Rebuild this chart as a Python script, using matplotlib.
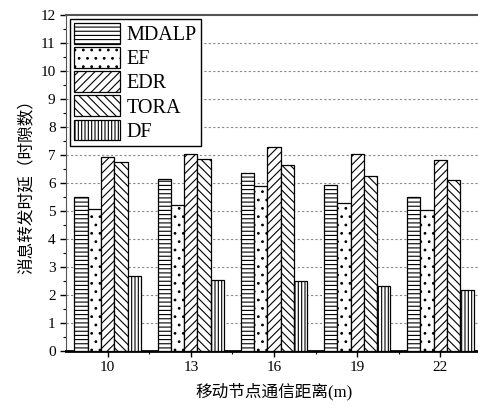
import matplotlib
matplotlib.use("Agg")
import matplotlib.pyplot as plt
import numpy as np

plt.rcParams['hatch.linewidth'] = 0.8

distances = ["10", "13", "16", "19", "22"]
series = ["MDALP", "EF", "EDR", "TORA", "DF"]
mdalp = [5.49, 6.14, 6.35, 5.94, 5.49]
ef = [5.06, 5.23, 5.89, 5.29, 5.02]
edr = [6.94, 7.04, 7.29, 7.04, 6.81]
tora = [6.75, 6.86, 6.65, 6.24, 6.12]
df = [2.68, 2.55, 2.51, 2.32, 2.17]
values = [mdalp, ef, edr, tora, df]
hatches = ['----', '..', '////', '\\\\\\\\', '|||||']

serif = ['Liberation Serif', 'Noto Sans CJK SC']

fig = plt.figure(figsize=(4.78, 4.12), dpi=100)
ax = fig.add_axes([66/478, 61/412, 416/478, 336/412])

x = np.arange(len(distances))
w = 0.16
for i, (name, vals, h) in enumerate(zip(series, values, hatches)):
    ax.bar(x + (i - 2) * w, vals, w, facecolor='white', edgecolor='black',
           hatch=h, linewidth=0.9, label=name, zorder=3)

ax.set_xlim(-0.5, 4.5)
ax.set_ylim(0, 12)
ax.set_xticks(x)
ax.set_xticklabels(distances, family=serif, fontsize=11)
ax.set_xticks(x[:-1] + 0.5, minor=True)
ax.set_yticks(np.arange(0, 13, 1))
ax.set_yticklabels([str(v) for v in range(13)], family=serif, fontsize=11)
ax.set_yticks(np.arange(0.5, 12, 1), minor=True)
ax.tick_params(axis='both', which='major', direction='out', length=4, width=1)
ax.tick_params(axis='both', which='minor', direction='out', length=2, width=0.8)

for yv in range(1, 12):
    ax.axhline(yv, color='#888888', linestyle=(0, (2, 2)), linewidth=0.8, zorder=1)

ax.spines['right'].set_visible(False)
ax.spines['bottom'].set_linewidth(2)
ax.spines['left'].set_color('#555555')
ax.spines['top'].set_color('#555555')
ax.spines['top'].set_linewidth(1.5)

ax.set_xlabel("移动节点通信距离(m)", family=serif, fontsize=12, labelpad=6)
ax.set_ylabel("消息转发时延（时隙数）", family=['Noto Sans CJK SC', 'DejaVu Sans'], fontsize=12, labelpad=4)

leg = ax.legend(loc='upper left', bbox_to_anchor=(0.0, 1.0), prop={'family': serif, 'size': 14.5},
                handlelength=2.3, handleheight=1.2, labelspacing=0.1, handletextpad=0.3,
                borderpad=0.2, borderaxespad=0.2, fancybox=False, framealpha=1,
                edgecolor='black')
leg.get_frame().set_linewidth(1)
leg.set_zorder(5)

fig.savefig("out.png", dpi=100)
